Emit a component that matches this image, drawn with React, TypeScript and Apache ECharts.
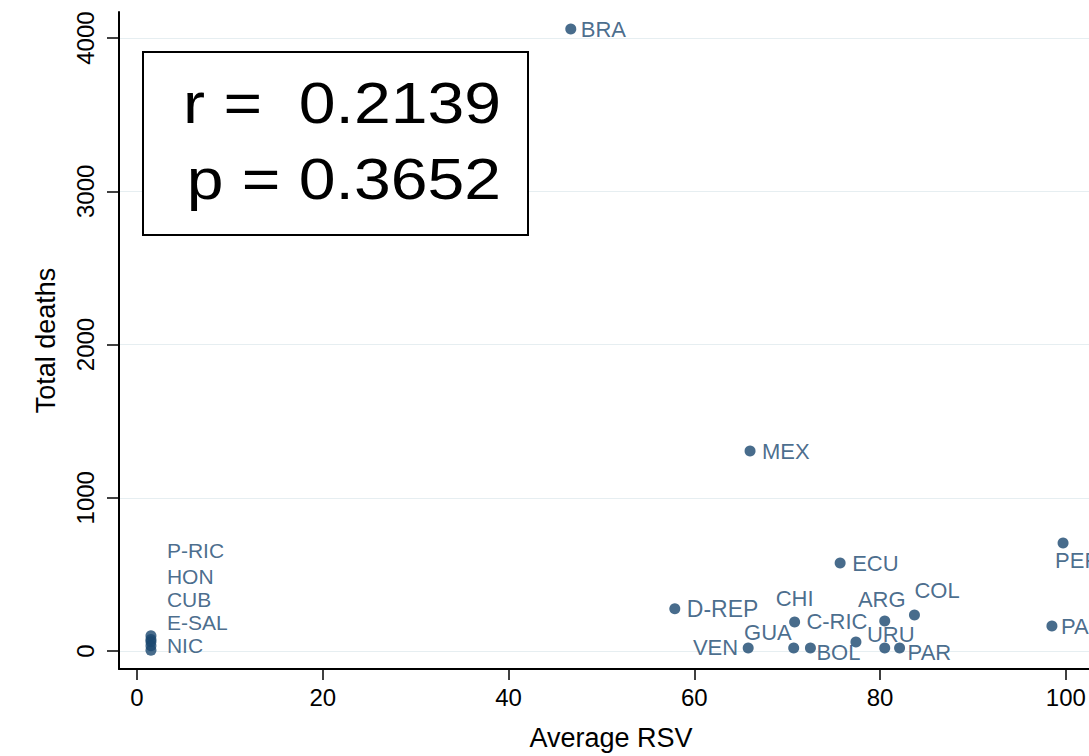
import React, { useEffect, useRef } from "react";
import * as echarts from "echarts";

// ---- data ----
const countries = [
  "BRA", "MEX", "ECU", "D-REP", "PER", "PAN", "COL", "ARG", "CHI", "C-RIC",
  "GUA", "VEN", "BOL", "URU", "PAR", "P-RIC", "HON", "CUB", "E-SAL", "NIC",
];
const averageRSV = [
  46.7, 66.0, 75.7, 57.9, 99.7, 98.5, 83.7, 80.5, 70.8, 77.4,
  70.7, 65.8, 72.5, 80.5, 82.1, 1.5, 1.5, 1.5, 1.5, 1.5,
];
const totalDeaths = [
  4059, 1305, 574, 275, 705, 163, 235, 196, 189, 59,
  20, 20, 20, 20, 20, 100, 75, 60, 35, 5,
];
const xTicks = [0, 20, 40, 60, 80, 100];
const yTicks = [0, 1000, 2000, 3000, 4000];
const statLines = ["r =  0.2139", "p = 0.3652"];

// ---- label placement (style): [dx, dy, align] from the marker centre ----
const labelPlacement: Record<string, [number, number, string]> = {
  BRA: [10, 0, "left"],
  MEX: [12, 0, "left"],
  ECU: [12, 0, "left"],
  "D-REP": [12, 0, "left"],
  PER: [-8, 18, "left"],
  PAN: [9, 0, "left"],
  COL: [0, -24, "left"],
  ARG: [-3, -21, "center"],
  CHI: [0, -24, "center"],
  "C-RIC": [-19, -20, "center"],
  GUA: [-2, -15, "right"],
  VEN: [-10, 0, "right"],
  BOL: [6, 5, "left"],
  URU: [6, -13, "center"],
  PAR: [8, 5, "left"],
  "P-RIC": [16, -85, "left"],
  HON: [16, -63, "left"],
  CUB: [16, -42, "left"],
  "E-SAL": [16, -23, "left"],
  NIC: [16, -5, "left"],
};
const clusterNames = ["P-RIC", "HON", "CUB", "E-SAL", "NIC"];

const NAVY = "#1a476f";
const FONT = "'Liberation Sans', Arial, sans-serif";

export default function App() {
  const ref = useRef<HTMLDivElement>(null);

  useEffect(() => {
    document.body.style.margin = "0";
    if (!ref.current) return;
    const chart = echarts.init(ref.current, undefined, { renderer: "svg" });

    const data = countries.map((name, i) => {
      const [dx, dy, align] = labelPlacement[name];
      const inCluster = clusterNames.includes(name);
      const fs = name === "D-REP" ? 23 : inCluster ? 21 : 22;
      return {
        name,
        value: [averageRSV[i], totalDeaths[i]],
        label: {
          show: true,
          formatter: name,
          position: "inside",
          offset: [dx, dy],
          align,
          verticalAlign: "middle",
          fontSize: fs,
          lineHeight: inCluster ? 19 : fs,
        },
      };
    });

    chart.setOption({
      animation: false,
      backgroundColor: "#ffffff",
      textStyle: { fontFamily: FONT },
      grid: { left: 119, top: 12, bottom: 87, width: 984, outerBoundsMode: "none", containLabel: false },
      xAxis: {
        type: "value",
        min: -1.94,
        max: 104,
        name: "Average RSV",
        nameLocation: "middle",
        nameGap: 55,
        nameTextStyle: { fontSize: 27, color: "#000", fontFamily: FONT },
        axisLine: { show: true, onZero: false, lineStyle: { color: "#000", width: 2 } },
        axisTick: { show: true, customValues: xTicks, length: 11, lineStyle: { color: "#000", width: 1.5 } },
        axisLabel: { customValues: xTicks, fontSize: 24, color: "#000", margin: 16, fontFamily: FONT, formatter: (v: number) => String(v) },
        splitLine: { show: false },
      },
      yAxis: {
        type: "value",
        min: -117.5,
        max: 4170,
        name: "Total deaths",
        nameLocation: "middle",
        nameGap: 60,
        nameTextStyle: { fontSize: 27, color: "#000", fontFamily: FONT },
        axisLine: { show: true, onZero: false, lineStyle: { color: "#000", width: 2 } },
        axisTick: { show: true, customValues: yTicks, length: 12, lineStyle: { color: "#000", width: 1.5 } },
        axisLabel: { customValues: yTicks, fontSize: 24, color: "#000", rotate: 90, margin: 22, fontFamily: FONT, formatter: (v: number) => String(v) },
        splitLine: { show: true, lineStyle: { color: "#e6eef1", width: 1 } },
      },
      series: [
        {
          type: "scatter",
          symbol: "circle",
          symbolSize: 11,
          itemStyle: { color: NAVY },
          label: { color: NAVY, fontFamily: FONT },
          data,
          z: 5,
        },
      ],
      graphic: [
        {
          type: "rect",
          x: 143,
          y: 52,
          shape: { width: 385, height: 183 },
          style: { fill: "#ffffff", stroke: "#000", lineWidth: 2 },
          z: 20,
        },
        {
          type: "text",
          x: 501,
          y: 103,
          scaleX: 1.16,
          style: { text: statLines[0], fontSize: 57, fill: "#000", fontFamily: FONT, align: "right", verticalAlign: "middle" },
          z: 21,
        },
        {
          type: "text",
          x: 501,
          y: 179,
          scaleX: 1.16,
          style: { text: statLines[1], fontSize: 57, fill: "#000", fontFamily: FONT, align: "right", verticalAlign: "middle" },
          z: 21,
        },
      ],
    });

    return () => chart.dispose();
  }, []);

  return <div ref={ref} style={{ width: 1089, height: 756, overflow: "hidden" }} />;
}
